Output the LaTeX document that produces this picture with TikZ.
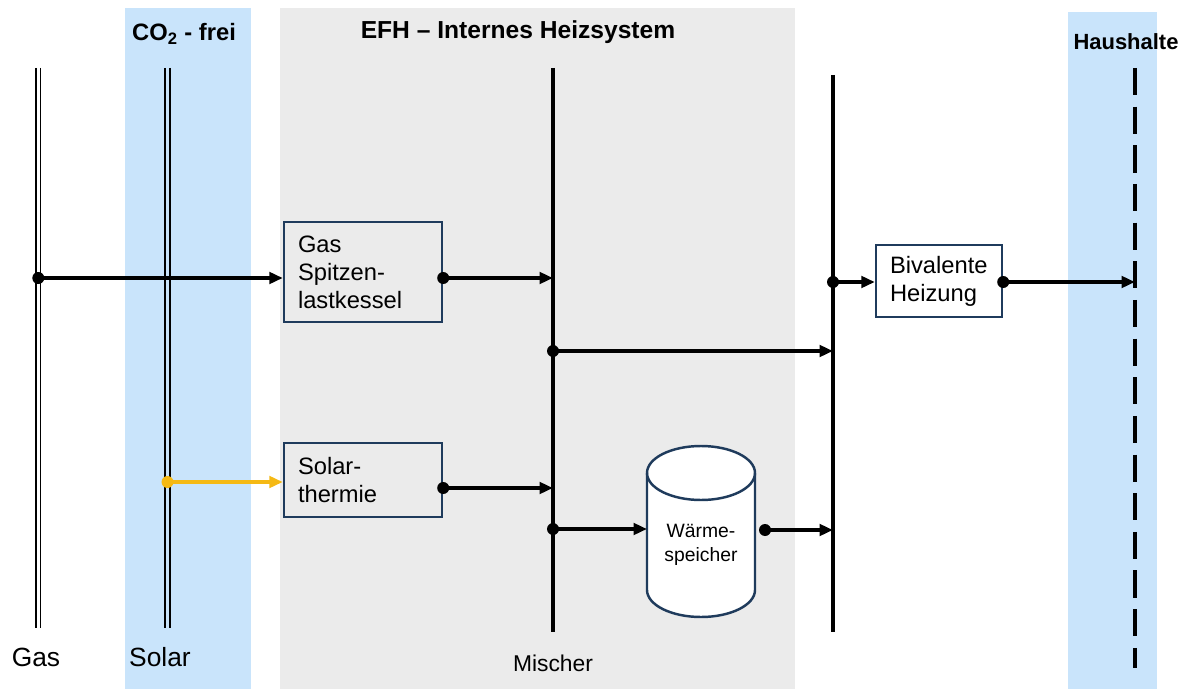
\documentclass[tikz,border=0pt]{standalone}
\usepackage{fontspec}
\setmainfont{Liberation Sans}
\usetikzlibrary{arrows.meta}
\definecolor{bandblue}{HTML}{C9E4FB}
\definecolor{bandgray}{HTML}{EBEBEB}
\definecolor{boxblue}{HTML}{1F3B5C}
\definecolor{solarorange}{HTML}{F5B914}
\tikzset{
  procbox/.style={draw=boxblue, line width=1.4pt, fill=bandgray, align=left, anchor=center,
    inner xsep=0.28cm, inner ysep=0pt, font=\fontsize{13.5}{16}\selectfont},
  flow/.style={line width=1.9pt, -{Triangle[length=0.27cm,width=0.23cm]}},
  solarflow/.style={line width=1.9pt, draw=solarorange, -{Triangle[length=0.27cm,width=0.23cm]}},
  bus/.style={line width=1.9pt},
  thinbus/.style={line width=0.95pt},
  dotmark/.style={circle, fill=black, inner sep=0pt, minimum size=0.24cm},
  title/.style={font=\bfseries\fontsize{14}{16}\selectfont},
  label/.style={font=\fontsize{15}{18}\selectfont}
}
\begin{document}
\begin{tikzpicture}[x=0.02cm,y=-0.02cm]
\useasboundingbox (0,0) rectangle (1189,689);
% background bands
\fill[bandblue] (125,8) rectangle (251,689);
\fill[bandgray] (280,8) rectangle (795,689);
\fill[bandblue] (1068,12) rectangle (1157,689);
% titles
\node[title, font=\bfseries\fontsize{13.5}{16}\selectfont, anchor=west] (co2) at (126,34) {CO\textsubscript{2} - frei};
\node[title] (efh) at (518,32) {EFH -- Internes Heizsystem};
\node[title, font=\bfseries\fontsize{12.5}{15}\selectfont] (haus) at (1126,42) {Haushalte};
% bottom labels
\node[label] (gaslab) at (36,657) {Gas};
\node[label, anchor=west] (solarlab) at (123,657) {Solar};
\node[font=\fontsize{13}{15}\selectfont] (mischlab) at (553,663) {Mischer};
% vertical buses
\coordinate (gasT) at (38.3,68); \coordinate (gasB) at (38.3,628);
\draw[thinbus] ([xshift=-0.045cm]gasT) -- ([xshift=-0.045cm]gasB);
\draw[thinbus] ([xshift=0.045cm]gasT) -- ([xshift=0.045cm]gasB);
\coordinate (solT) at (167.5,68); \coordinate (solB) at (167.5,628);
\draw[thinbus] ([xshift=-0.045cm]solT) -- ([xshift=-0.045cm]solB);
\draw[thinbus] ([xshift=0.045cm]solT) -- ([xshift=0.045cm]solB);
\coordinate (mixT) at (553,68); \coordinate (mixB) at (553,632);
\draw[bus] (mixT) -- (mixB);
\coordinate (heatT) at (833,75); \coordinate (heatB) at (833,632);
\draw[bus] (heatT) -- (heatB);
\coordinate (hhT) at (1135,68); \coordinate (hhB) at (1135,668);
\draw[bus, dash pattern=on 15.5pt off 6.5pt] (hhT) -- (hhB);
% boxes
\node[procbox, text width=2.6cm, minimum height=2.0cm] (kessel) at (363,272) {Gas\\Spitzen-\\lastkessel};
\node[procbox, text width=2.6cm, minimum height=1.48cm] (solth) at (363,480) {Solar-\\thermie};
\node[procbox, fill=white, text width=1.96cm, minimum height=1.44cm] (biv) at (939,281) {Bivalente\\Heizung};
% storage cylinder
\draw[boxblue, line width=1.4pt, fill=white]
  (647,473) -- (647,590) arc[start angle=180, end angle=360, x radius=54, y radius=-27]
  -- (755,473) arc[start angle=0, end angle=180, x radius=54, y radius=-27] -- cycle;
\draw[boxblue, line width=1.4pt] (647,473) arc[start angle=180, end angle=360, x radius=54, y radius=-27];
\node[font=\fontsize{11}{14}\selectfont, align=center] (speicher) at (701,545) {Wärme-\\speicher};
% dot coordinates
\coordinate (gasdot) at (38.3,278);
\coordinate (soldot) at (167.5,482);
\coordinate (kesseldot) at (kessel.east |- 0,278);
\coordinate (solthdot) at (solth.east |- 0,488);
\coordinate (mixdotA) at (553,351);
\coordinate (mixdotB) at (553,529);
\coordinate (cyldot) at (765,530);
\coordinate (heatdot) at (833,282);
\coordinate (bivdot) at (biv.east |- 0,282);
% connectors
\draw[flow] (gasdot) -- (gasdot -| kessel.west);
\draw[flow] (kesseldot) -- (kesseldot -| mixT);
\draw[solarflow] (soldot) -- (soldot -| solth.west);
\draw[flow] (solthdot) -- (solthdot -| mixT);
\draw[flow] (mixdotA) -- (mixdotA -| heatT);
\draw[flow] (mixdotB) -- (mixdotB -| 647,0);
\draw[flow] (cyldot) -- (cyldot -| heatT);
\draw[flow] (heatdot) -- (heatdot -| biv.west);
\draw[flow] (bivdot) -- (bivdot -| hhT);
% dots
\node[dotmark] at (gasdot) {};
\node[dotmark, fill=solarorange] at (soldot) {};
\node[dotmark] at (kesseldot) {};
\node[dotmark] at (solthdot) {};
\node[dotmark] at (mixdotA) {};
\node[dotmark] at (mixdotB) {};
\node[dotmark] at (cyldot) {};
\node[dotmark] at (heatdot) {};
\node[dotmark] at (bivdot) {};
\end{tikzpicture}
\end{document}
